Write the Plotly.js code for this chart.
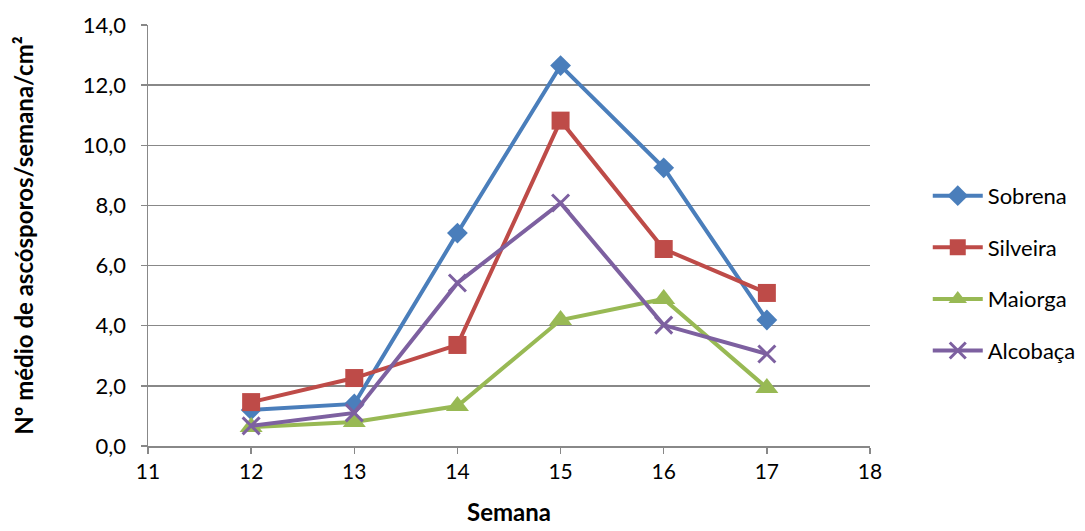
<!DOCTYPE html>
<html>
<head>
<meta charset="utf-8">
<script src="https://cdn.plot.ly/plotly-3.0.1.min.js"></script>
<style>html,body{margin:0;padding:0;background:#fff;}#chart{width:1085px;height:531px;}</style>
</head>
<body>
<div id="chart"></div>
<script>
const semanas = [12, 13, 14, 15, 16, 17];
const sobrena = [1.2, 1.4, 7.08, 12.65, 9.25, 4.19];
const silveira = [1.46, 2.26, 3.36, 10.82, 6.55, 5.09];
const maiorga = [0.63, 0.8, 1.33, 4.19, 4.89, 1.93];
const alcobaca = [0.67, 1.1, 5.42, 8.08, 4.02, 3.06];
const names = ['Sobrena', 'Silveira', 'Maiorga', 'Alcobaça'];
const series = [sobrena, silveira, maiorga, alcobaca];
const colors = ['#4A7EBB', '#BE4B48', '#98B954', '#7D60A0'];
const symbols = ['diamond', 'square', 'triangle-up', 'x-thin'];
const sizes = [16, 18, 20, 17];

const traces = series.map((ys, i) => ({
  x: semanas, y: ys, name: names[i], type: 'scatter', mode: 'lines+markers',
  legendgroup: 'g' + i,
  line: {color: colors[i], width: 4},
  marker: {symbol: symbols[i], size: sizes[i], color: colors[i],
           line: {color: colors[i], width: i === 3 ? 3 : 0}}
}));

const layout = {
  width: 1085, height: 531,
  margin: {l: 148, r: 215, t: 25, b: 85, autoexpand: false},
  paper_bgcolor: '#fff', plot_bgcolor: '#fff',
  font: {family: 'Lato, "Open Sans", sans-serif', size: 21, color: '#000'},
  separators: ',.',
  showlegend: true,
  legend: {x: 1.08, y: 0.41, yanchor: 'middle', xanchor: 'left', tracegroupgap: 20,
           itemwidth: 50, font: {size: 22}, bgcolor: 'rgba(0,0,0,0)'},
  xaxis: {range: [11, 18], dtick: 1, tick0: 11, showgrid: false, zeroline: false,
          showline: true, linecolor: '#888', linewidth: 1.5, ticks: 'outside', ticklen: 6,
          tickcolor: '#888', tickwidth: 1.5, tickfont: {size: 21},
          title: {text: '<b>Semana</b>', font: {size: 24}, standoff: 22}},
  yaxis: {range: [0, 14], dtick: 2, tickformat: '.1f', showgrid: true, gridcolor: '#888',
          gridwidth: 1.5, zeroline: false, showline: true, linecolor: '#888', linewidth: 1.5,
          ticks: 'outside', ticklen: 6, tickcolor: '#888', tickwidth: 1.5, tickfont: {size: 22},
          ticklabelstandoff: 10,
          title: {text: '<b>Nº médio de ascósporos/semana/cm²</b>', font: {size: 24}, standoff: 42}}
};
Plotly.newPlot('chart', traces, layout, {displayModeBar: false, staticPlot: true});
</script>
</body>
</html>
